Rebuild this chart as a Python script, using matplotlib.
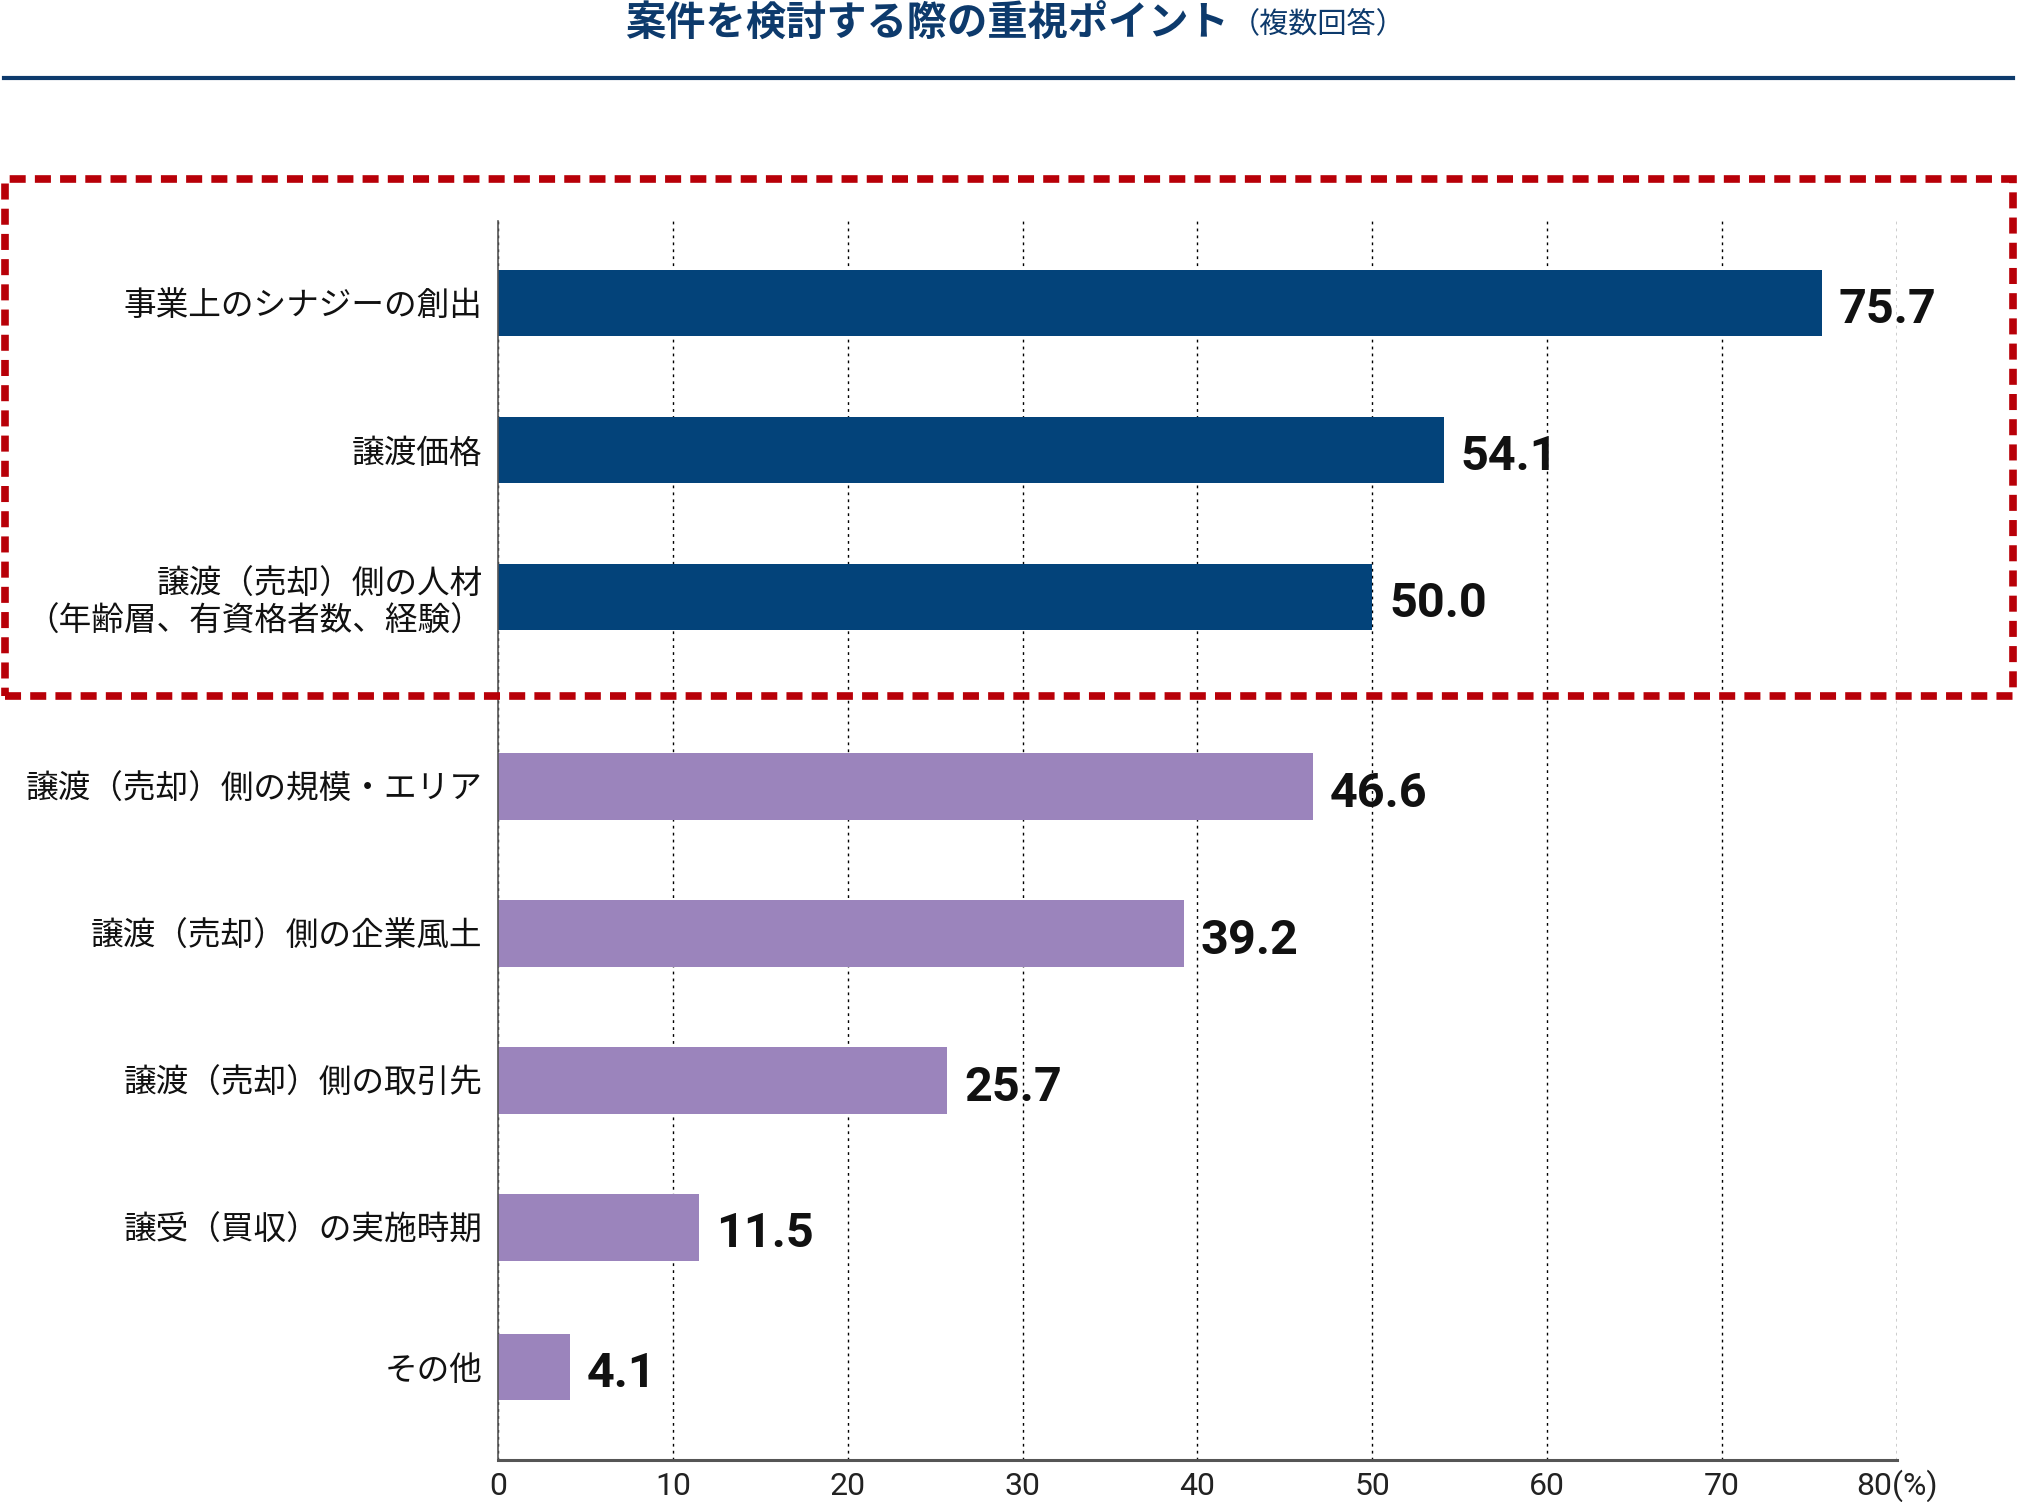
import numpy as np
import matplotlib
matplotlib.use("Agg")
import matplotlib.pyplot as plt
from matplotlib.lines import Line2D
from matplotlib.patches import Rectangle

plt.rcParams['font.family'] = ['Noto Sans CJK JP', 'DejaVu Sans']

# data
categories = [
    "事業上のシナジーの創出",
    "譲渡価格",
    "譲渡（売却）側の人材\n（年齢層、有資格者数、経験）",
    "譲渡（売却）側の規模・エリア",
    "譲渡（売却）側の企業風土",
    "譲渡（売却）側の取引先",
    "譲受（買収）の実施時期",
    "その他",
]
values = [75.7, 54.1, 50.0, 46.6, 39.2, 25.7, 11.5, 4.1]
highlighted = [True, True, True, False, False, False, False, False]
xticks = [0, 10, 20, 30, 40, 50, 60, 70, 80]
xtick_labels = ["0", "10", "20", "30", "40", "50", "60", "70", "80(%)"]

navy = "#03437a"
purple = "#9b84bc"
red = "#b80008"
num_font = ["Roboto", "DejaVu Sans"]

fig = plt.figure(figsize=(20.17, 15.02), dpi=100)
ax = fig.add_axes([0.2469, 0.0280, 0.6936, 0.8249])

# small gap between the highlighted group and the rest
ypos = np.arange(len(values)) + np.where(np.array(highlighted), 0.0, 0.29)
ypos[-1] -= 0.05
colors = [navy if h else purple for h in highlighted]

ax.barh(ypos, values, height=0.45, color=colors, zorder=3)

for y, v in zip(ypos, values):
    ax.annotate(f"{v:.1f}", (v, y), xytext=(12, -5), textcoords="offset points",
                ha="left", va="center", fontsize=35, fontweight="bold",
                family=num_font, color="#111111")

ax.set_xlim(0, 80)
ax.set_ylim(7.871, -0.558)
ax.set_yticks(ypos)
ax.set_yticklabels(categories, fontsize=23.5, color="#111111", linespacing=1.2)
ax.set_xticks(xticks)
ax.set_xticklabels(xtick_labels, fontsize=23, family=num_font, color="#222222",
                   va="baseline")
ax.tick_params(axis="both", length=0)
ax.tick_params(axis="y", pad=11)
ax.tick_params(axis="x", pad=25)

ax.grid(axis="x", linestyle=(0, (2, 3)), color="#000000", linewidth=1.0, zorder=1)
for s in ["top", "right"]:
    ax.spines[s].set_visible(False)
ax.spines["left"].set_color("#555555")
ax.spines["left"].set_linewidth(1.2)
ax.spines["bottom"].set_color("#555555")
ax.spines["bottom"].set_linewidth(2.2)
ax.spines["left"].set_zorder(4)

# title
fig.text(1229 / 2017, 1 - 23 / 1502, "案件を検討する際の重視ポイント", ha="right", va="center",
         fontsize=29, fontweight="bold", color="#0d3a6c")
fig.text(1231 / 2017, 1 - 25 / 1502, "（複数回答）", ha="left", va="center",
         fontsize=21, color="#0d3a6c")
fig.add_artist(Line2D([4 / 2017, 2013 / 2017], [1 - 78 / 1502, 1 - 78 / 1502],
                      transform=fig.transFigure, color="#0d3a6c", linewidth=3))

# dashed highlight box
box = Rectangle((5 / 2017, 1 - 696 / 1502), 2008 / 2017, (696 - 179) / 1502,
                transform=fig.transFigure, fill=False, edgecolor=red,
                linewidth=5.5, linestyle=(0, (2.1, 1.2)), zorder=10)
fig.add_artist(box)

fig.savefig("out.png", dpi=100)
